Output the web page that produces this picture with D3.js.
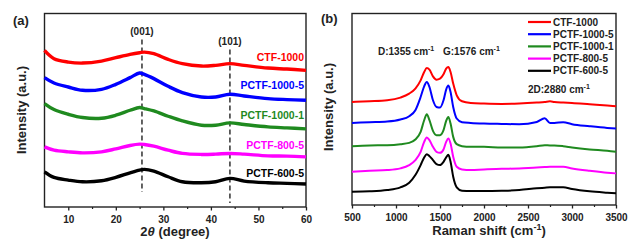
<!DOCTYPE html>
<html>
<head>
<meta charset="utf-8">
<script src="https://cdn.jsdelivr.net/npm/d3@7"></script>
<style>
  body { margin: 0; background: #fff; }
  svg { display: block; font-family: "Liberation Sans", Arial, sans-serif; font-weight: bold; }
</style>
</head>
<body>
<div id="chart"></div>
<script>
// sample names + colours (same order in both panels)
const samples = ['CTF-1000', 'PCTF-1000-5', 'PCTF-1000-1', 'PCTF-800-5', 'PCTF-600-5'];
const sampleColors = ['#ff0000', '#0000ff', '#1f8a1f', '#ff00ff', '#000000'];

// (a) XRD, intensity in a.u. (stacked with offsets)
const xrdAngle = [5, 7, 10, 13, 17, 20, 23, 25, 26, 28, 31, 34, 38, 41, 44, 47, 52, 56, 60];
const xrdCTF1000 = [157, 148.7, 145.3, 144.3, 146.3, 149.7, 153, 154.7, 155.3, 153.7, 148, 143.7, 141.3, 142, 143.7, 142, 139.3, 138.3, 137];
const xrdPCTF1000_5 = [129.7, 124.3, 120.3, 117, 118, 123, 129.7, 134.3, 133, 128.7, 121, 114.7, 110.3, 110.3, 113, 111.3, 108.7, 107.7, 107];
const xrdPCTF1000_1 = [103.7, 97.7, 93, 89.7, 89, 92, 97, 99.7, 98.7, 96.3, 91, 86.3, 82, 82, 84.3, 82.7, 80.3, 79.3, 78.3];
const xrdPCTF800_5 = [60.3, 57, 55.3, 54.3, 55.3, 58.3, 61.7, 63, 62.7, 61, 57, 53.7, 52.7, 53, 53.7, 53, 51.3, 51, 50.3];
const xrdPCTF600_5 = [35.3, 29.7, 27, 25.3, 26.3, 29.7, 34.3, 37, 37.7, 36, 30.3, 25.3, 24.3, 25.3, 28.7, 26, 24.3, 23.7, 23];
const xrdLabelY = [150, 122, 92, 62, 34];   // where the sample names sit (a.u.)
const xrdPeaks = [{ label: '(001)', angle: 25.5, top: 168, bottom: 15 }, { label: '(101)', angle: 44, top: 158, bottom: 4 }];
const xrdTicks = [10, 20, 30, 40, 50, 60];
const xrdMinorTicks = [15, 25, 35, 45, 55];

// (b) Raman
const ramanShift = [500, 700, 900, 1050, 1150, 1220, 1280, 1320, 1350, 1380, 1420, 1460, 1500, 1540, 1570, 1595, 1620, 1650, 1690, 1750, 1850, 2000, 2200, 2400, 2600, 2690, 2750, 2800, 2900, 3000, 3200, 3400, 3500];
const ramanCTF1000 = [102.3, 103, 104, 106.7, 110.7, 115.7, 124, 132.3, 136.3, 134.7, 128, 124.7, 125.7, 130, 135.7, 137.3, 132.3, 120.7, 109, 103, 101.3, 100.7, 100.3, 100.7, 101.7, 102.3, 103, 102.3, 101.7, 101.3, 100, 98.7, 98];
const ramanPCTF1000_5 = [81.3, 82, 82.7, 84.7, 88, 94, 107.3, 118, 122.3, 117.3, 104, 97.3, 96.7, 104, 114.7, 118.7, 112.3, 97.3, 85.7, 82, 81.3, 80.7, 80.3, 80, 82.3, 86, 81.3, 81.3, 82, 80, 78, 76.3, 75.7];
const ramanPCTF1000_1 = [58, 58.7, 59, 60, 61.3, 64.7, 72.3, 84, 90, 84, 73.3, 69, 69, 74, 83.3, 87.3, 80.7, 67.3, 60, 58, 57.3, 57.3, 56.7, 56.7, 58, 59, 58.7, 58.7, 58, 56.7, 54.7, 53.3, 52.3];
const ramanPCTF800_5 = [32.3, 33.3, 34, 35.7, 39, 44, 52.3, 62.3, 66.7, 64, 57.3, 52.3, 51.3, 54.7, 62.3, 65.7, 60.7, 47.3, 37.3, 34.7, 34, 34.7, 35.3, 35.7, 36.7, 37, 37.3, 37.3, 37.3, 35.7, 33.3, 31.3, 30.7];
const ramanPCTF600_5 = [12.3, 12.7, 14, 16.7, 21.3, 29, 39, 46.7, 50, 48, 44, 40, 39, 42.3, 46.7, 49.3, 42.3, 27.3, 16.7, 13.3, 13, 13, 13.3, 14, 15.7, 16.3, 16.7, 16.7, 16.7, 15, 12.7, 11.3, 10.7];
const ramanTicks = [500, 1000, 1500, 2000, 2500, 3000, 3500];
const ramanMinorTicks = [750, 1250, 1750, 2250, 2750, 3250];

const xrdSeries = [xrdCTF1000, xrdPCTF1000_5, xrdPCTF1000_1, xrdPCTF800_5, xrdPCTF600_5];
const ramanSeries = [ramanCTF1000, ramanPCTF1000_5, ramanPCTF1000_1, ramanPCTF800_5, ramanPCTF600_5];

const width = 635, height = 242;
const svg = d3.select('#chart')
  .append('svg')
  .attr('width', width)
  .attr('height', height);

svg.append('rect').attr('width', width).attr('height', height).attr('fill', '#fff');

// draws one framed panel, returns the scales + group
const drawPanel = (box, xDomain, yDomain, ticks, minorTicks) => {
  const x = d3.scaleLinear().domain(xDomain).range([box.left, box.right]);
  const y = d3.scaleLinear().domain(yDomain).range([box.bottom, box.top]);

  const g = svg.append('g');

  // minor ticks
  g.append('g')
    .attr('transform', `translate(0,${box.bottom})`)
    .call(d3.axisBottom(x).tickValues(minorTicks).tickSize(2).tickFormat(''))
    .call(a => a.select('.domain').remove())
    .call(a => a.selectAll('line').attr('stroke', '#222').attr('stroke-width', 1.2));

  // major ticks
  g.append('g')
    .attr('transform', `translate(0,${box.bottom})`)
    .call(d3.axisBottom(x).tickValues(ticks).tickSize(3.5).tickSizeOuter(0).tickPadding(5).tickFormat(d3.format('d')))
    .call(a => a.select('.domain').remove())
    .call(a => a.selectAll('line').attr('stroke', '#222').attr('stroke-width', 1.3))
    .call(a => a.selectAll('text')
      .attr('fill', '#222')
      .style('font-size', '10px')
      .style('font-weight', 'bold')
      .style('font-family', '"Liberation Sans", Arial, sans-serif'));

  // frame
  g.append('rect')
    .attr('x', box.left)
    .attr('y', box.top)
    .attr('width', box.right - box.left)
    .attr('height', box.bottom - box.top)
    .attr('fill', 'none')
    .attr('stroke', '#222')
    .attr('stroke-width', 1.4);

  return { x, y, g };
};

// ---------- (a) XRD ----------
const boxA = { left: 44.5, right: 306, top: 13.5, bottom: 207 };
const a = drawPanel(boxA, [5, 60], [0, 194], xrdTicks, xrdMinorTicks);

const lineA = d3.line()
  .x((d, i) => a.x(xrdAngle[i]))
  .y(d => a.y(d))
  .curve(d3.curveCatmullRom);

// dashed reference lines for the peaks
xrdPeaks.forEach(p => {
  a.g.append('line')
    .attr('x1', a.x(p.angle)).attr('x2', a.x(p.angle))
    .attr('y1', a.y(p.top)).attr('y2', a.y(p.bottom))
    .attr('stroke', '#222')
    .attr('stroke-width', 1.4)
    .attr('stroke-dasharray', '5,3');
  a.g.append('text')
    .attr('x', a.x(p.angle))
    .attr('y', a.y(p.top) - 4)
    .attr('text-anchor', 'middle')
    .attr('fill', '#222')
    .style('font-size', '10px')
    .text(p.label);
});

xrdSeries.forEach((s, i) => {
  a.g.append('path')
    .datum(s)
    .attr('d', lineA)
    .attr('fill', 'none')
    .attr('stroke', sampleColors[i])
    .attr('stroke-width', 3.4)
    .attr('stroke-linejoin', 'round');
});

// sample names on the right side
samples.forEach((name, i) => {
  a.g.append('text')
    .attr('x', boxA.right - 2)
    .attr('y', a.y(xrdLabelY[i]) + 4)
    .attr('text-anchor', 'end')
    .attr('fill', sampleColors[i])
    .style('font-size', '10.5px')
    .text(name);
});

// axis titles
const titleA = svg.append('text')
  .attr('x', 175)
  .attr('y', 236)
  .attr('text-anchor', 'middle')
  .attr('fill', '#222')
  .style('font-size', '13px');
titleA.append('tspan').text('2');
titleA.append('tspan').style('font-style', 'italic').text('θ');
titleA.append('tspan').text(' (degree)');

svg.append('text')
  .attr('transform', 'translate(26,110) rotate(-90)')
  .attr('text-anchor', 'middle')
  .attr('fill', '#222')
  .style('font-size', '13px')
  .text('Intensity (a.u.)');

svg.append('text')
  .attr('x', 13)
  .attr('y', 25)
  .attr('fill', '#222')
  .style('font-size', '13px')
  .text('(a)');

// ---------- (b) Raman ----------
const boxB = { left: 352, right: 616, top: 13.5, bottom: 205 };
const b = drawPanel(boxB, [500, 3500], [-1, 191], ramanTicks, ramanMinorTicks);

const lineB = d3.line()
  .x((d, i) => b.x(ramanShift[i]))
  .y(d => b.y(d))
  .curve(d3.curveMonotoneX);

ramanSeries.forEach((s, i) => {
  b.g.append('path')
    .datum(s)
    .attr('d', lineB)
    .attr('fill', 'none')
    .attr('stroke', sampleColors[i])
    .attr('stroke-width', 2)
    .attr('stroke-linejoin', 'round');
});

// legend
const legend = b.g.append('g');
samples.forEach((name, i) => {
  const ly = 22 + i * 12.2;
  legend.append('line')
    .attr('x1', 528).attr('x2', 551)
    .attr('y1', ly).attr('y2', ly)
    .attr('stroke', sampleColors[i])
    .attr('stroke-width', 2.2);
  legend.append('text')
    .attr('x', 553)
    .attr('y', ly + 3.6)
    .attr('fill', '#222')
    .style('font-size', '10px')
    .text(name);
});

// band annotations with cm-1 superscript
const bandLabel = (x, y, txt) => {
  const t = b.g.append('text')
    .attr('x', x)
    .attr('y', y)
    .attr('fill', '#222')
    .style('font-size', '10px');
  t.append('tspan').text(txt + ' cm');
  t.append('tspan').attr('dy', -4).style('font-size', '7px').text('-1');
};
bandLabel(378, 55, 'D:1355');
bandLabel(443, 55, 'G:1576');
bandLabel(528, 93, '2D:2880');

const titleB = svg.append('text')
  .attr('x', 489)
  .attr('y', 235)
  .attr('text-anchor', 'middle')
  .attr('fill', '#222')
  .style('font-size', '13px');
titleB.append('tspan').text('Raman shift (cm');
titleB.append('tspan').attr('dy', -5).style('font-size', '9px').text('-1');
titleB.append('tspan').attr('dy', 5).text(')');

svg.append('text')
  .attr('transform', 'translate(333,107) rotate(-90)')
  .attr('text-anchor', 'middle')
  .attr('fill', '#222')
  .style('font-size', '13px')
  .text('Intensity (a.u.)');

svg.append('text')
  .attr('x', 321)
  .attr('y', 23)
  .attr('fill', '#222')
  .style('font-size', '13px')
  .text('(b)');
</script>
</body>
</html>
